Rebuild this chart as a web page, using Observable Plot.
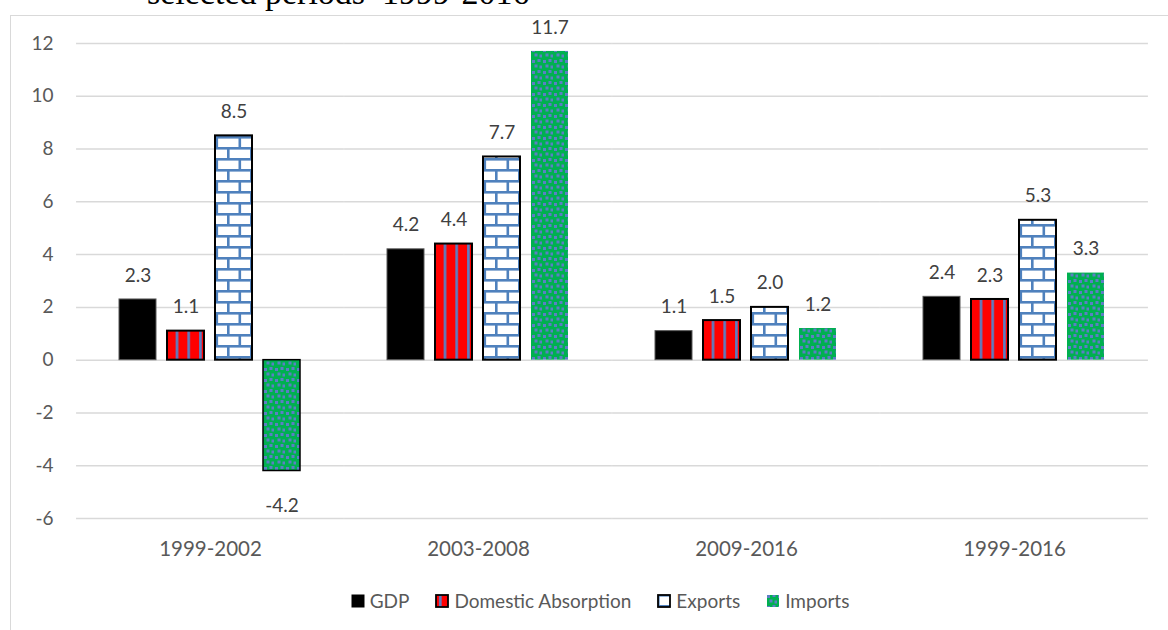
<!DOCTYPE html>
<html>
<head>
<meta charset="utf-8">
<script src="https://cdn.jsdelivr.net/npm/d3@7"></script>
<script src="https://cdn.jsdelivr.net/npm/@observablehq/plot@0.6"></script>
<style>
  body { margin: 0; background: #fff; }
  #wrap { position: relative; width: 1168px; height: 630px; overflow: hidden; font-family: Lato, "Open Sans", sans-serif; }
  #title { position: absolute; left: 147px; top: -26px; font-family: "Liberation Serif", serif; font-size: 34px; color: #000; white-space: pre; }
  #frame { position: absolute; left: 10px; top: 15px; width: 1300px; height: 800px; border: 1.5px solid #d9d9d9; box-sizing: border-box; }
  #chart { position: absolute; left: 0; top: 15px; }
  #chart svg g[aria-label="fx-axis tick label"] text { font-size: 20.5px; }
  #legend { position: absolute; left: 0; top: 589px; width: 1200px; display: flex; justify-content: center; align-items: center; font-size: 19px; color: #595959; }
  .item { display: flex; align-items: center; margin: 0 13px; }
  .item svg { margin-right: 5px; }
</style>
</head>
<body>
<svg width="0" height="0" style="position:absolute">
  <defs>
    <pattern id="stripes" patternUnits="userSpaceOnUse" width="11.7" height="10">
      <rect width="11.7" height="10" fill="#ff0000"></rect>
      <rect x="4" width="2.6" height="10" fill="#5b7fc4"></rect>
    </pattern>
    <pattern id="bricks" patternUnits="userSpaceOnUse" width="23" height="22">
      <rect width="23" height="22" fill="#ffffff"></rect>
      <rect y="0" width="23" height="2.6" fill="#4f81bd"></rect>
      <rect y="11" width="23" height="2.6" fill="#4f81bd"></rect>
      <rect x="0" y="2" width="2.6" height="9.5" fill="#4f81bd"></rect>
      <rect x="11.5" y="13" width="2.6" height="9.5" fill="#4f81bd"></rect>
    </pattern>
    <pattern id="dots" patternUnits="userSpaceOnUse" width="11" height="11">
      <rect width="11" height="11" fill="#00b050"></rect>
      <rect x="1" y="1" width="3" height="3" fill="#5b7fc4"></rect>
      <rect x="6.5" y="0" width="3" height="3" fill="#5b7fc4"></rect>
      <rect x="3.5" y="5.5" width="3" height="3" fill="#5b7fc4"></rect>
      <rect x="8.5" y="6.5" width="3" height="3" fill="#5b7fc4"></rect>
    </pattern>
  </defs>
</svg>
<div id="wrap">
  <div id="title">selected periods  1999-2016</div>
  <div id="frame"></div>
  <div id="chart"></div>
  <div id="legend"></div>
</div>
<script>
const periods = ["1999-2002", "2003-2008", "2009-2016", "1999-2016"];
const seriesNames = ["GDP", "Domestic Absorption", "Exports", "Imports"];
const gdp = [2.3, 4.2, 1.1, 2.4];
const domesticAbsorption = [1.1, 4.4, 1.5, 2.3];
const exportsGrowth = [8.5, 7.7, 2.0, 5.3];
const importsGrowth = [-4.2, 11.7, 1.2, 3.3];
const yTicks = [-6, -4, -2, 0, 2, 4, 6, 8, 10, 12];

const seriesValues = [gdp, domesticAbsorption, exportsGrowth, importsGrowth];
const rows = periods.flatMap((p, i) => seriesNames.map((s, j) => ({period: p, series: s, value: seriesValues[j][i]})));

const styles = {
  "GDP": {fill: "black", stroke: "#595959", strokeWidth: 1},
  "Domestic Absorption": {fill: "url(#stripes)", stroke: "black", strokeWidth: 2},
  "Exports": {fill: "url(#bricks)", stroke: "black", strokeWidth: 2},
  "Imports": {fill: "url(#dots)", stroke: "none", strokeWidth: 0}
};

const width = 1168, marginLeft = 75, marginRight = 18;
const fxPadInner = 0.312, fxPadOuter = 0.156;
const fxStep = (width - marginLeft - marginRight) / (periods.length - fxPadInner + 2 * fxPadOuter);
const outerGap = fxStep * fxPadOuter;
const gridExtend = -fxStep * fxPadInner / 2;

const common = {fx: "period", x: "series", y: "value"};
const barMarks = seriesNames.map(s => Plot.barY(rows, {...common, filter: d => d.series === s, ...styles[s]}));

const chart = Plot.plot({
  width,
  height: 553,
  marginLeft,
  marginRight,
  marginTop: 28,
  marginBottom: 50,
  style: {fontFamily: "Lato, 'Open Sans', sans-serif", fontSize: "19px", color: "#595959", background: "transparent"},
  fx: {domain: periods, paddingInner: fxPadInner, paddingOuter: fxPadOuter, axis: "bottom", label: null, tickSize: 0, tickPadding: 23},
  x: {domain: seriesNames, paddingInner: 0.22, paddingOuter: 0.02, axis: null},
  y: {domain: [-6, 12], ticks: yTicks, tickSize: 0, tickPadding: 23 + outerGap, tickFormat: d => String(d), label: null},
  marks: [
    Plot.ruleY(yTicks, {stroke: "#d9d9d9", strokeWidth: 1.5, insetLeft: gridExtend, insetRight: gridExtend}),
    ...barMarks,
    Plot.barY(rows, {...common, filter: d => d.series === "Imports" && d.value < 0, fill: "none", stroke: "black", strokeWidth: 1.5}),
    Plot.text(rows, {...common, filter: d => d.value >= 0, text: d => d.value.toFixed(1), dy: -24, lineAnchor: "middle", fill: "#404040", fontSize: 19}),
    Plot.text(rows, {...common, filter: d => d.value < 0, text: d => d.value.toFixed(1), dy: 35, lineAnchor: "middle", fill: "#404040", fontSize: 19})
  ]
});
document.getElementById("chart").appendChild(chart);

const legend = d3.select("#legend");
seriesNames.forEach(s => {
  const it = legend.append("div").attr("class", "item");
  const sv = it.append("svg").attr("width", 14).attr("height", 14);
  const st = styles[s];
  sv.append("rect").attr("x", 1).attr("y", 1).attr("width", 12).attr("height", 12)
    .attr("fill", st.fill)
    .attr("stroke", s === "Imports" ? "none" : "black")
    .attr("stroke-width", s === "GDP" ? 1 : 1.8);
  it.append("span").text(s);
});
</script>
</body>
</html>
